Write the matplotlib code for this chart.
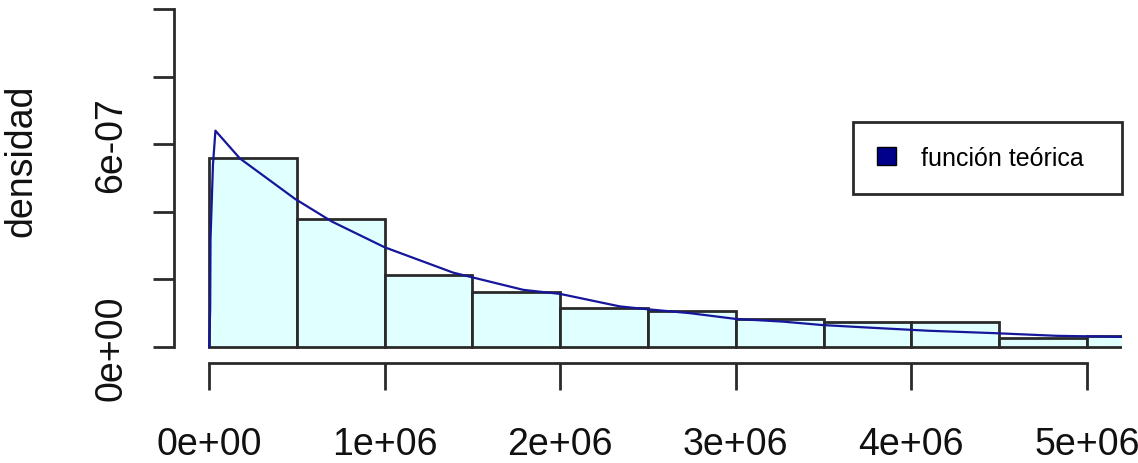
import matplotlib
matplotlib.use("Agg")
import matplotlib.pyplot as plt
from matplotlib.patches import Patch
import numpy as np

# ---- data ----
bin_edges = [0.0, 0.5e6, 1.0e6, 1.5e6, 2.0e6, 2.5e6, 3.0e6, 3.5e6, 4.0e6, 4.5e6, 5.0e6, 5.5e6]
bar_density = [5.58e-07, 3.79e-07, 2.13e-07, 1.64e-07, 1.145e-07, 1.065e-07,
               0.83e-07, 0.75e-07, 0.75e-07, 0.26e-07, 0.33e-07]

curve_x = [0.0, 0.006e6, 0.008e6, 0.022e6, 0.036e6, 0.175e6, 0.49e6, 0.70e6, 1.0e6,
           1.39e6, 1.79e6, 2.0e6, 2.34e6, 2.49e6, 2.74e6, 3.0e6, 3.27e6, 3.49e6,
           3.77e6, 4.1e6, 4.47e6, 4.83e6, 5.2e6]
curve_y = [0.0, 1.1e-07, 3.2e-07, 5.4e-07, 6.4e-07, 5.58e-07, 4.38e-07, 3.71e-07, 2.95e-07,
           2.2e-07, 1.69e-07, 1.57e-07, 1.20e-07, 1.12e-07, 1.0e-07, 0.83e-07, 0.75e-07, 0.65e-07,
           0.57e-07, 0.48e-07, 0.41e-07, 0.33e-07, 0.30e-07]

x_ticks = [0, 1e6, 2e6, 3e6, 4e6, 5e6]
x_ticklabels = ["0e+00", "1e+06", "2e+06", "3e+06", "4e+06", "5e+06"]
y_ticks = [0, 2e-07, 4e-07, 6e-07, 8e-07, 1e-06]
y_ticklabels = ["0e+00", "", "", "6e-07", "", ""]
y_label = "densidad"
legend_label = "función teórica"

plt.rcParams['font.family'] = ['Liberation Sans', 'DejaVu Sans']

W, H = 1138, 464
fig = plt.figure(figsize=(W / 100, H / 100), dpi=100)
ax = fig.add_axes([174 / W, (H - 361.5) / H, (1122 - 174) / W, 365 / H])
ax.set_xlim(-0.2e6, 5.2e6)
ax.set_ylim(-0.4e-07, 10.4e-07)

widths = np.diff(bin_edges)
ax.bar(bin_edges[:-1], bar_density, width=widths, align='edge',
       facecolor='#E0FFFF', edgecolor='#2a2a2a', linewidth=2.0, zorder=2)
ax.plot(curve_x, curve_y, color='#16169a', linewidth=1.6, zorder=3)

for s in ['top', 'right']:
    ax.spines[s].set_visible(False)
ax.spines['left'].set_bounds(0, 1e-06)
ax.spines['bottom'].set_bounds(0, 5e6)
ax.spines['bottom'].set_position(('outward', 2))
for s in ['left', 'bottom']:
    ax.spines[s].set_linewidth(2.0)
    ax.spines[s].set_color('#2a2a2a')

ax.set_xticks(x_ticks)
ax.set_xticklabels(x_ticklabels)
ax.set_yticks(y_ticks)
ax.set_yticklabels(y_ticklabels, rotation=90, va='center')
ax.tick_params(axis='x', direction='out', length=19.4, width=2.0, color='#2a2a2a',
               pad=26, labelsize=27, labelcolor='#111111')
ax.tick_params(axis='y', direction='out', length=15, width=2.0, color='#2a2a2a',
               pad=17, labelsize=27, labelcolor='#111111')

fig.text(21.7 / W, 1 - 160.8 / H, y_label, rotation=90, ha='center', va='center',
         fontsize=27, color='#111111')

handle = Patch(facecolor='#00008B', edgecolor='black', linewidth=1.0)
leg = fig.legend([handle], [legend_label], loc='upper left',
                 bbox_to_anchor=(853 / W, (H - 199) / H, 269 / W, 76 / H),
                 bbox_transform=fig.transFigure, mode='expand',
                 borderaxespad=0, borderpad=0.95, handlelength=0.76, handleheight=0.76,
                 handletextpad=1.0, fontsize=18, fancybox=False, framealpha=1,
                 edgecolor='#2a2a2a')
leg.get_frame().set_linewidth(2.0)

fig.savefig("out.png", dpi=100)
